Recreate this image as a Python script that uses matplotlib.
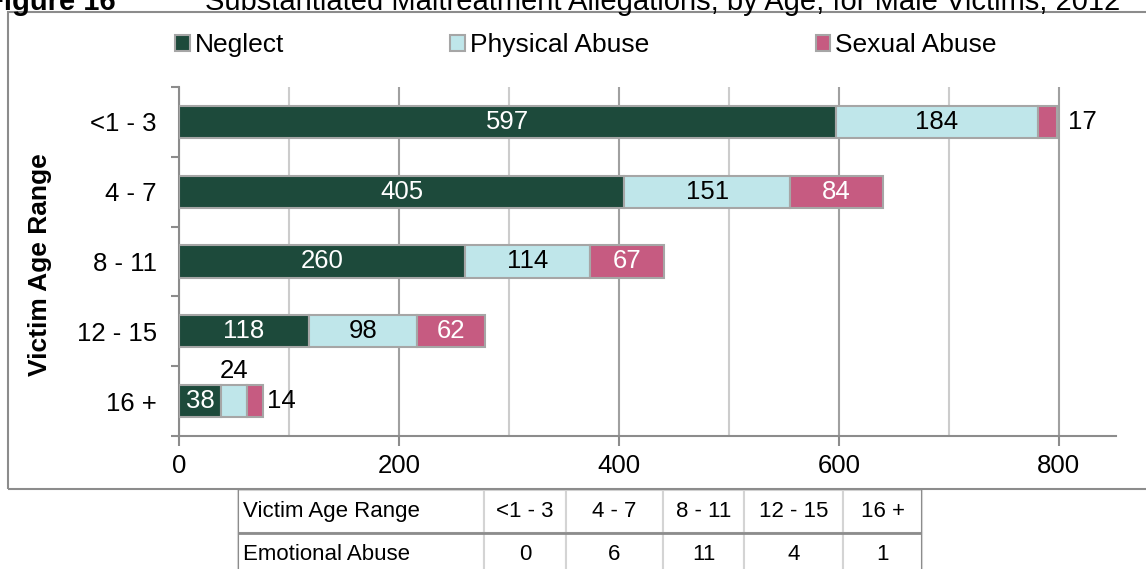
import numpy as np
import matplotlib.pyplot as plt
from matplotlib.patches import Rectangle

plt.rcParams['font.family'] = ['Liberation Sans', 'DejaVu Sans']

ages = ['<1 - 3', '4 - 7', '8 - 11', '12 - 15', '16 +']
neglect = [597, 405, 260, 118, 38]
physical = [184, 151, 114, 98, 24]
sexual = [17, 84, 67, 62, 14]
emotional = [0, 6, 11, 4, 1]

W, H = 1146, 569
def fx(px):
    return px / W
def fy(py):
    return 1 - py / H

c_neglect = '#1d4a3b'
c_physical = '#bfe6ea'
c_sexual = '#c65b81'
edge = '#a6a6a6'

fig = plt.figure(figsize=(W / 100, H / 100), dpi=100)

# outer chart frame
fig.add_artist(Rectangle((fx(8), fy(489)), fx(1170) - fx(8), (489 - 12) / H,
                         transform=fig.transFigure, fill=False, ec='#8c8c8c', lw=1.5))

# title, cut at the top as in the original page
fig.text(fx(-14), fy(10), 'Figure 16', fontsize=21, fontweight='bold', va='baseline')
fig.text(fx(205), fy(10), 'Substantiated Maltreatment Allegations, by Age, for Male Victims, 2012',
         fontsize=21, va='baseline')

ax = fig.add_axes([fx(179), fy(436), fx(1116) - fx(179), (436 - 87) / H])
y = np.arange(len(ages))
left2 = np.array(neglect)
left3 = left2 + np.array(physical)
h = 0.46
ax.barh(y, neglect, height=h, color=c_neglect, edgecolor=edge, lw=1.5, label='Neglect', zorder=3)
ax.barh(y, physical, left=left2, height=h, color=c_physical, edgecolor=edge, lw=1.5,
        label='Physical Abuse', zorder=3)
ax.barh(y, sexual, left=left3, height=h, color=c_sexual, edgecolor=edge, lw=1.5,
        label='Sexual Abuse', zorder=3)

fs = 18.5
for i in range(len(ages)):
    ax.text(neglect[i] / 2, i, str(neglect[i]), color='white', ha='center', va='center', fontsize=fs, zorder=4)
    if i == len(ages) - 1:
        ax.text(left2[i] + physical[i] / 2, i - h / 2 - 0.03, str(physical[i]), color='black',
                ha='center', va='bottom', fontsize=fs, zorder=4)
    else:
        ax.text(left2[i] + physical[i] / 2, i, str(physical[i]), color='black',
                ha='center', va='center', fontsize=fs, zorder=4)
    total = left3[i] + sexual[i]
    if sexual[i] < 30:
        ax.annotate(str(sexual[i]), (total, i), xytext=(3 if i else 8, 0), textcoords='offset points',
                    ha='left', va='center', fontsize=fs, zorder=4)
    else:
        ax.text(left3[i] + sexual[i] / 2, i, str(sexual[i]), color='white',
                ha='center', va='center', fontsize=fs, zorder=4)

ax.set_xlim(0, 852)
ax.set_ylim(len(ages) - 0.5, -0.5)
ax.set_xticks([0, 200, 400, 600, 800])
ax.set_xticks([100, 300, 500, 700], minor=True)
ax.grid(True, axis='x', which='major', color='#a0a0a0', lw=1.5, zorder=0)
ax.grid(True, axis='x', which='minor', color='#cccccc', lw=1.5, zorder=0)
ax.tick_params(axis='x', which='major', length=7, width=1.5, color='#8c8c8c', pad=6, labelsize=fs)
ax.tick_params(axis='x', which='minor', length=0)
ax.set_yticks(y)
ax.set_yticklabels(ages)
ax.set_yticks(np.arange(len(ages) + 1) - 0.5, minor=True)
ax.tick_params(axis='y', which='major', length=0, pad=16, labelsize=fs)
ax.tick_params(axis='y', which='minor', length=6, width=1.5, color='#8c8c8c')
for s in ['top', 'right']:
    ax.spines[s].set_visible(False)
for s in ['left', 'bottom']:
    ax.spines[s].set_color('#8c8c8c')
    ax.spines[s].set_linewidth(1.5)

fig.text(fx(40), fy(265), 'Victim Age Range', rotation=90, fontsize=19, fontweight='bold',
         ha='center', va='center')

fig.legend(loc='center left', bbox_to_anchor=(fx(175), fy(45)), ncol=3, frameon=False,
           fontsize=19, handlelength=0.55, handleheight=0.55, handletextpad=0.2,
           columnspacing=6.3, borderpad=0, borderaxespad=0)

# data table for emotional abuse
tax = fig.add_axes([fx(238), fy(576), fx(922) - fx(238), (576 - 490) / H])
tax.axis('off')
tax.set_xlim(0, 1)
tax.set_ylim(0, 1)
bounds = [238, 484, 566, 663, 744, 843, 922]
widths = [(bounds[k + 1] - bounds[k]) / (922 - 238) for k in range(6)]
cells = [['Victim Age Range'] + ages, ['Emotional Abuse'] + [str(v) for v in emotional]]
tbl = tax.table(cellText=cells, colWidths=widths, bbox=[0, 0, 1, 1], cellLoc='center')
tbl.auto_set_font_size(False)
tbl.set_fontsize(16)
for (r, c), cell in tbl.get_celld().items():
    cell.set_edgecolor('#d4d4d4')
    cell.set_linewidth(1.5)
    if c == 0:
        cell._loc = 'left'
        cell.PAD = 0.02
        cell.get_text().set_ha('left')
tax.axvline(0, color='#8c8c8c', lw=1.5, zorder=10)
tax.axvline(1, color='#8c8c8c', lw=1.5, zorder=10)
tax.axhline(0.5, color='#8c8c8c', lw=2, zorder=10)

fig.savefig('out.png', dpi=100)
